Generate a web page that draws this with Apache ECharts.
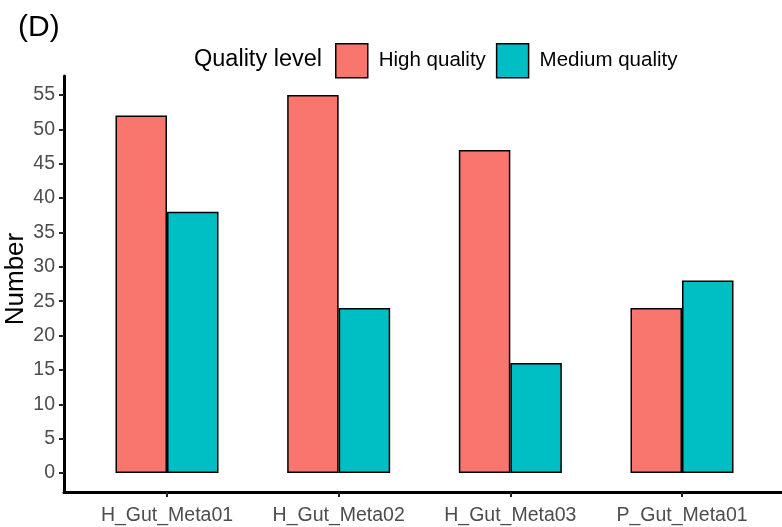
<!DOCTYPE html>
<html>
<head>
<meta charset="utf-8">
<script src="https://cdn.jsdelivr.net/npm/echarts@6/dist/echarts.min.js"></script>
<style>
  html, body { margin: 0; padding: 0; background: #fff; }
  #chart { width: 782px; height: 527px; }
</style>
</head>
<body>
<div id="chart"></div>
<script>
// Sample groups and genome counts per quality level
const categories = ['H_Gut_Meta01', 'H_Gut_Meta02', 'H_Gut_Meta03', 'P_Gut_Meta01'];
const highQuality = [52, 55, 47, 24];
const mediumQuality = [38, 24, 16, 28];
const yTicks = [0, 5, 10, 15, 20, 25, 30, 35, 40, 45, 50, 55];
const seriesNames = ['High quality', 'Medium quality'];
const legendTitle = 'Quality level';
const yAxisName = 'Number';
const panelTag = '(D)';

const FONT = '"Liberation Sans", Arial, sans-serif';

// Groups sit at positions 1..n on a numeric axis padded by 0.6 on each side
const positions = categories.map((_, i) => i + 1);
const toPairs = vals => vals.map((v, i) => [positions[i], v]);
// Value axis padded by 5% of the data range at both ends
const yMaxData = yTicks[yTicks.length - 1];
const yPad = yMaxData * 0.05;

const chart = echarts.init(document.getElementById('chart'), null, { renderer: 'canvas' });

chart.setOption({
  backgroundColor: '#ffffff',
  animation: false,
  title: [
    { text: panelTag, left: 13, top: 8,
      textStyle: { fontFamily: FONT, fontSize: 30, fontWeight: 'normal', color: '#000' } },
    { text: legendTitle, left: 189, top: 43,
      textStyle: { fontFamily: FONT, fontSize: 23.5, fontWeight: 'normal', color: '#000' } }
  ],
  // vertical y-axis title
  graphic: [{
    type: 'text',
    x: 16, y: 279,
    rotation: Math.PI / 2,
    style: {
      text: yAxisName,
      fontFamily: FONT, fontSize: 26, fill: '#000',
      align: 'center', verticalAlign: 'middle'
    }
  }],
  legend: {
    data: seriesNames,
    left: 330,
    top: 38,
    itemWidth: 32,
    itemHeight: 34,
    itemGap: 10,
    icon: 'rect',
    itemStyle: { borderColor: '#000', borderWidth: 1.5 },
    textStyle: { fontFamily: FONT, fontSize: 20.5, color: '#000', padding: [0, 0, 0, 6] },
    selectedMode: false
  },
  grid: { left: 64, right: -3, top: 76, bottom: 35, containLabel: false, outerBoundsMode: 'none' },
  xAxis: {
    type: 'value',
    min: positions[0] - 0.6,
    max: positions[positions.length - 1] + 0.6,
    axisLine: { show: true, onZero: false, lineStyle: { color: '#000', width: 3 } },
    axisTick: { show: true, customValues: positions, length: 5, lineStyle: { color: '#222', width: 2 } },
    axisLabel: {
      customValues: positions,
      fontFamily: FONT, fontSize: 19.5, color: '#4d4d4d', margin: 14,
      formatter: v => categories[Math.round(v) - 1] || ''
    },
    splitLine: { show: false }
  },
  yAxis: {
    type: 'value',
    min: -yPad,
    max: yMaxData + yPad,
    axisLine: { show: true, onZero: false, lineStyle: { color: '#000', width: 3 } },
    axisTick: { show: true, customValues: yTicks, length: 5, lineStyle: { color: '#222', width: 2 } },
    axisLabel: { customValues: yTicks, fontFamily: FONT, fontSize: 19.5, color: '#4d4d4d', margin: 9 },
    splitLine: { show: false }
  },
  series: [
    {
      name: seriesNames[0], type: 'bar',
      data: toPairs(highQuality), barWidth: 51.5, barGap: '0%',
      itemStyle: { color: '#F8766D', borderColor: '#000', borderWidth: 1.5 }
    },
    {
      name: seriesNames[1], type: 'bar',
      data: toPairs(mediumQuality), barWidth: 51.5, barGap: '0%',
      itemStyle: { color: '#00BFC4', borderColor: '#000', borderWidth: 1.5 }
    }
  ]
});
</script>
</body>
</html>
